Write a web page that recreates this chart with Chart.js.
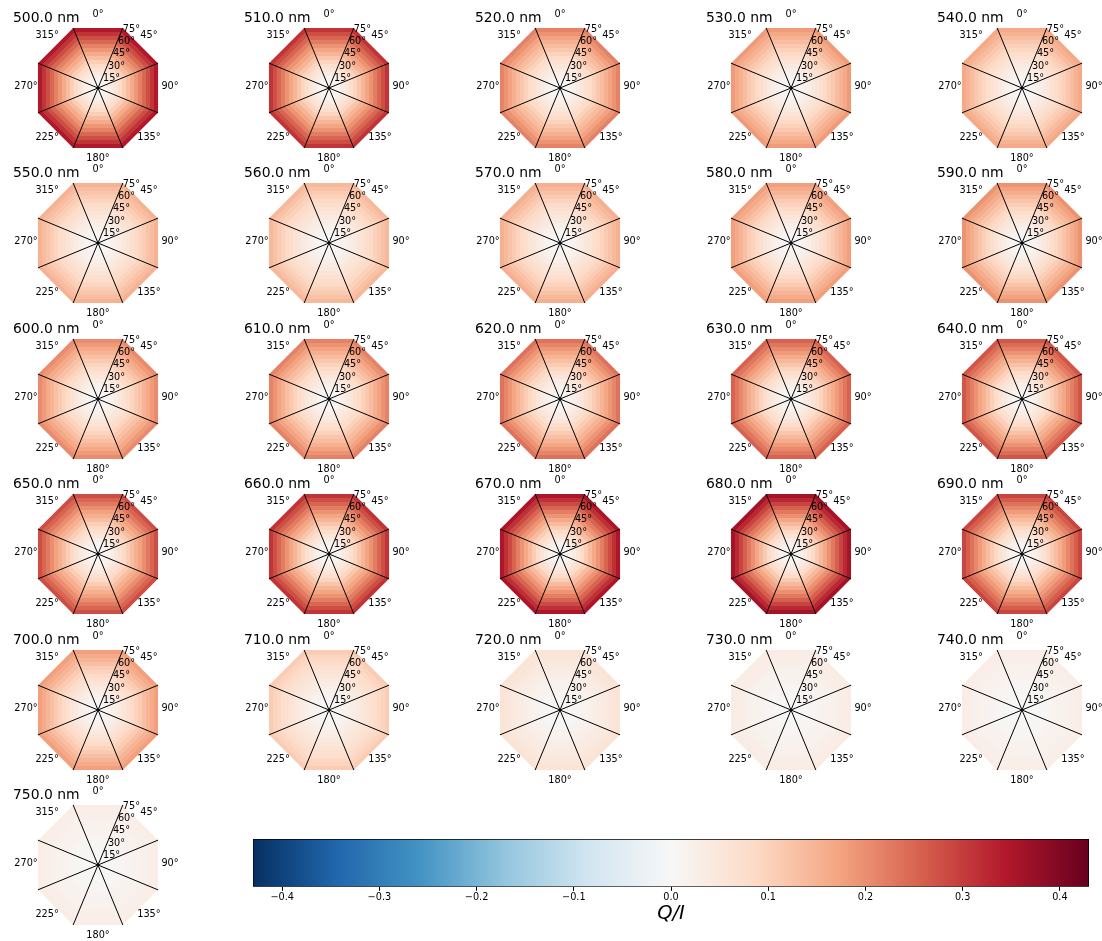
<!DOCTYPE html>
<html>
<head>
<meta charset="utf-8">
<script src="https://cdn.jsdelivr.net/npm/chart.js"></script>
<style>
  body { margin: 0; background: #fff; }
  #wrap { position: relative; width: 1102px; height: 941px; overflow: hidden; background: #fff; }
  canvas { position: absolute; }
</style>
</head>
<body>
<div id="wrap"></div>
<script>
// wavelengths of the panels (nm)
const wavelengths = [500, 510, 520, 530, 540, 550, 560, 570, 580, 590, 600, 610, 620, 630, 640,
                     650, 660, 670, 680, 690, 700, 710, 720, 730, 740, 750];
// outer edge of each zenith ring (deg)
const ringEdges = [5, 10, 15, 20, 25, 30, 35, 40, 45, 50, 55, 60, 65, 70, 75];
const angleLabels = ['0°', '45°', '90°', '135°', '180°', '225°', '270°', '315°'];
const radialTicks = [15, 30, 45, 60, 75];
const cbarTickValues = [-0.4, -0.3, -0.2, -0.1, 0, 0.1, 0.2, 0.3, 0.4];
const cbarTickLabels = ['−0.4', '−0.3', '−0.2', '−0.1', '0.0', '0.1', '0.2', '0.3', '0.4'];
const vmin = -0.43, vmax = 0.43;

// Q/I per ring, inner to outer
const q500 = [0.003, 0.010, 0.021, 0.038, 0.059, 0.083, 0.107, 0.135, 0.162, 0.190, 0.217, 0.248, 0.279, 0.311, 0.345];
const q510 = [0.003, 0.009, 0.019, 0.034, 0.053, 0.074, 0.096, 0.121, 0.146, 0.171, 0.195, 0.223, 0.251, 0.279, 0.310];
const q520 = [0.002, 0.006, 0.013, 0.024, 0.037, 0.052, 0.067, 0.084, 0.101, 0.118, 0.135, 0.155, 0.174, 0.194, 0.215];
const q530 = [0.002, 0.006, 0.011, 0.020, 0.031, 0.044, 0.057, 0.072, 0.087, 0.102, 0.117, 0.133, 0.150, 0.167, 0.185];
const q540 = [0.002, 0.005, 0.010, 0.018, 0.028, 0.040, 0.051, 0.064, 0.078, 0.091, 0.104, 0.119, 0.134, 0.149, 0.165];
const q550 = [0.002, 0.005, 0.009, 0.017, 0.026, 0.036, 0.047, 0.059, 0.071, 0.083, 0.095, 0.108, 0.122, 0.135, 0.150];
const q560 = [0.001, 0.004, 0.008, 0.015, 0.024, 0.034, 0.043, 0.055, 0.066, 0.077, 0.088, 0.101, 0.113, 0.126, 0.140];
const q570 = [0.002, 0.005, 0.009, 0.017, 0.026, 0.037, 0.048, 0.060, 0.073, 0.085, 0.098, 0.112, 0.126, 0.140, 0.155];
const q580 = [0.002, 0.005, 0.011, 0.020, 0.031, 0.043, 0.056, 0.070, 0.085, 0.099, 0.113, 0.130, 0.146, 0.162, 0.180];
const q590 = [0.002, 0.006, 0.012, 0.021, 0.033, 0.047, 0.060, 0.076, 0.092, 0.107, 0.123, 0.140, 0.158, 0.176, 0.195];
const q600 = [0.002, 0.006, 0.012, 0.023, 0.035, 0.049, 0.064, 0.080, 0.096, 0.113, 0.129, 0.148, 0.166, 0.185, 0.205];
const q610 = [0.002, 0.006, 0.013, 0.024, 0.037, 0.052, 0.067, 0.084, 0.101, 0.118, 0.135, 0.155, 0.174, 0.194, 0.215];
const q620 = [0.002, 0.007, 0.014, 0.026, 0.040, 0.056, 0.073, 0.092, 0.110, 0.129, 0.148, 0.169, 0.190, 0.212, 0.235];
const q630 = [0.003, 0.008, 0.015, 0.028, 0.043, 0.061, 0.079, 0.099, 0.120, 0.140, 0.161, 0.184, 0.207, 0.230, 0.255];
const q640 = [0.003, 0.008, 0.016, 0.030, 0.046, 0.065, 0.084, 0.105, 0.127, 0.149, 0.170, 0.194, 0.219, 0.243, 0.270];
const q650 = [0.003, 0.008, 0.017, 0.031, 0.048, 0.067, 0.087, 0.109, 0.132, 0.154, 0.176, 0.202, 0.227, 0.252, 0.280];
const q660 = [0.003, 0.009, 0.019, 0.034, 0.053, 0.074, 0.096, 0.121, 0.146, 0.171, 0.195, 0.223, 0.251, 0.279, 0.310];
const q670 = [0.004, 0.011, 0.021, 0.039, 0.060, 0.084, 0.109, 0.137, 0.165, 0.193, 0.221, 0.252, 0.284, 0.315, 0.350];
const q680 = [0.004, 0.011, 0.022, 0.040, 0.061, 0.086, 0.112, 0.140, 0.169, 0.198, 0.227, 0.259, 0.292, 0.324, 0.360];
const q690 = [0.003, 0.009, 0.017, 0.032, 0.049, 0.070, 0.090, 0.113, 0.136, 0.160, 0.183, 0.209, 0.235, 0.261, 0.290];
const q700 = [0.002, 0.005, 0.011, 0.020, 0.031, 0.043, 0.056, 0.070, 0.085, 0.099, 0.113, 0.130, 0.146, 0.162, 0.180];
const q710 = [0.001, 0.003, 0.007, 0.012, 0.019, 0.026, 0.034, 0.043, 0.052, 0.061, 0.069, 0.079, 0.089, 0.099, 0.110];
const q720 = [0.001, 0.002, 0.004, 0.007, 0.010, 0.014, 0.019, 0.023, 0.028, 0.033, 0.038, 0.043, 0.049, 0.054, 0.060];
const q730 = [0.000, 0.001, 0.002, 0.004, 0.006, 0.008, 0.011, 0.014, 0.016, 0.019, 0.022, 0.025, 0.028, 0.032, 0.035];
const q740 = [0.000, 0.001, 0.002, 0.003, 0.005, 0.007, 0.009, 0.012, 0.014, 0.017, 0.019, 0.022, 0.024, 0.027, 0.030];
const q750 = [0.000, 0.001, 0.002, 0.003, 0.005, 0.007, 0.009, 0.012, 0.014, 0.017, 0.019, 0.022, 0.024, 0.027, 0.030];

const series = [q500, q510, q520, q530, q540, q550, q560, q570, q580, q590, q600, q610, q620,
                q630, q640, q650, q660, q670, q680, q690, q700, q710, q720, q730, q740, q750];

Chart.defaults.font.family = '"DejaVu Sans"';
Chart.defaults.color = '#000';

// RdBu_r colour map
const rdbu = ['#053061', '#2166ac', '#4393c3', '#92c5de', '#d1e5f0', '#f7f7f7',
              '#fddbc7', '#f4a582', '#d6604d', '#b2182b', '#67001f'];
function hexRgb(h) {
  return [parseInt(h.slice(1, 3), 16), parseInt(h.slice(3, 5), 16), parseInt(h.slice(5, 7), 16)];
}
function cmap(v) {
  let t = (v - vmin) / (vmax - vmin);
  t = Math.max(0, Math.min(1, t)) * 10;
  const i = Math.min(9, Math.floor(t));
  const f = t - i;
  const a = hexRgb(rdbu[i]), b = hexRgb(rdbu[i + 1]);
  const c = a.map((x, k) => Math.round(x + (b[k] - x) * f));
  return 'rgb(' + c.join(',') + ')';
}

// angle labels, radial labels and panel title
const polarText = {
  id: 'polarText',
  afterDraw(chart, args, opts) {
    const r = chart.scales.r;
    const ctx = chart.ctx;
    ctx.save();
    ctx.fillStyle = '#000';
    ctx.font = '9.7px "DejaVu Sans"';
    ctx.textAlign = 'center';
    ctx.textBaseline = 'middle';
    angleLabels.forEach((lab, i) => {
      const p = r.getPointPosition(i - 0.5, r.drawingArea + 7);
      ctx.fillText(lab, p.x, p.y - 1.5);
    });
    ctx.textAlign = 'left';
    radialTicks.forEach(v => {
      const p = r.getPointPosition(0, r.getDistanceFromCenterForValue(v));
      ctx.fillText(v + '°', p.x, p.y + 2);
    });
    ctx.font = '13.9px "DejaVu Sans"';
    ctx.fillText(opts.title, r.xCenter - 85, r.yCenter - 70);
    ctx.restore();
  }
};

const colX = [98, 329, 560, 791, 1022];
const rowY = [88, 243, 399, 554, 710, 865];
const wrap = document.getElementById('wrap');

wavelengths.forEach((wl, n) => {
  const cx = colX[n % 5], cy = rowY[Math.floor(n / 5)];
  const cv = document.createElement('canvas');
  cv.width = 230; cv.height = 160;
  cv.style.left = (cx - 114) + 'px';
  cv.style.top = (cy - 80) + 'px';
  wrap.appendChild(cv);
  const qi = series[n];
  new Chart(cv, {
    type: 'radar',
    data: {
      labels: angleLabels,
      datasets: ringEdges.map((edge, k) => ({
        data: angleLabels.map(() => edge),
        backgroundColor: cmap(qi[k]),
        borderColor: 'transparent',
        borderWidth: 0,
        pointRadius: 0,
        fill: true
      }))
    },
    options: {
      responsive: false,
      animation: false,
      events: [],
      layout: { padding: { left: 49, right: 51, top: 15, bottom: 15 } },
      plugins: {
        legend: { display: false },
        tooltip: { enabled: false },
        polarText: { title: wl.toFixed(1) + ' nm' }
      },
      scales: {
        r: {
          min: 0,
          max: 75,
          startAngle: 22.5,
          grid: { display: false, z: 1 },
          angleLines: { display: true, color: '#000', lineWidth: 1 },
          pointLabels: { display: false },
          ticks: { display: false, z: 1 }
        }
      }
    },
    plugins: [polarText]
  });
});

// colour bar
const cb = document.createElement('canvas');
cb.width = 860; cb.height = 95;
cb.style.left = '240px';
cb.style.top = '830px';
wrap.appendChild(cb);
new Chart(cb, {
  type: 'bar',
  data: {
    labels: ['Q/I'],
    datasets: [{
      data: [[vmin, vmax]],
      backgroundColor: c => {
        const ch = c.chart, xs = ch.scales.x;
        if (!ch.chartArea || !xs) return '#f7f7f7';
        const g = ch.ctx.createLinearGradient(xs.getPixelForValue(vmin), 0, xs.getPixelForValue(vmax), 0);
        rdbu.forEach((col, i) => g.addColorStop(i / 10, col));
        return g;
      },
      borderColor: '#000',
      borderWidth: 1,
      borderSkipped: false,
      barPercentage: 1,
      categoryPercentage: 1
    }]
  },
  options: {
    indexAxis: 'y',
    responsive: false,
    animation: false,
    events: [],
    layout: { padding: { left: 13, right: 11, top: 9, bottom: 1 } },
    plugins: { legend: { display: false }, tooltip: { enabled: false } },
    scales: {
      y: { display: false },
      x: {
        min: vmin,
        max: vmax,
        afterBuildTicks: s => { s.ticks = cbarTickValues.map(v => ({ value: v })); },
        grid: { display: true, drawOnChartArea: false, drawTicks: true, tickLength: 4, color: '#000' },
        border: { display: false },
        ticks: { padding: 1, color: '#000', font: { size: 9.7 }, callback: (v, i) => cbarTickLabels[i] },
        title: {
          display: true, text: 'Q/I', color: '#000',
          font: { size: 19.5, style: 'italic', lineHeight: 1 },
          padding: { top: 0, bottom: 0 }
        }
      }
    }
  }
});
</script>
</body>
</html>
